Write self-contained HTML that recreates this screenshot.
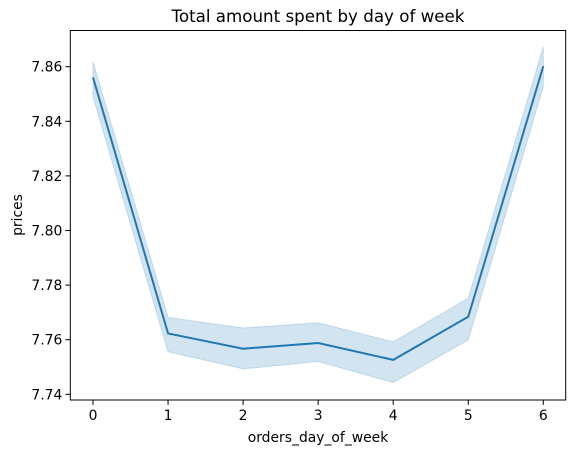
<!DOCTYPE html>
<html><head><meta charset="utf-8"><style>
body{margin:0;background:#fff;font-family:"Liberation Sans","DejaVu Sans",sans-serif}
svg text{font-family:"DejaVu Sans","Liberation Sans",sans-serif;fill:#000}
</style></head><body>
<svg id="chart" width="576" height="453" xmlns="http://www.w3.org/2000/svg">
<text x="318" y="22" font-size="16.7" text-anchor="middle">Total amount spent by day of week</text>
<g id="plot"></g>
<text x="318" y="442" font-size="13.9" text-anchor="middle">orders_day_of_week</text>
<text transform="translate(22,215) rotate(-90)" font-size="13.9" text-anchor="middle">prices</text>
</svg>
<script>
const days=[0,1,2,3,4,5,6];
const meanVals=[7.8561,7.7623,7.7567,7.7588,7.7526,7.7684,7.8602];
const upperVals=[7.8618,7.7682,7.7643,7.7662,7.7592,7.7752,7.8673];
const lowerVals=[7.8490,7.7556,7.7493,7.7520,7.7443,7.7599,7.8527];
const yTicks=[7.74,7.76,7.78,7.80,7.82,7.84,7.86];
const xTicks=[0,1,2,3,4,5,6];
const L=70.3,R=565.7,T=30.5,B=400;
const xs=d=>93+d*75.05;
const ys=v=>394.3-(v-7.74)/0.02*54.6;
const NS="http://www.w3.org/2000/svg";
const g=document.getElementById('plot');
function mk(t,a){const e=document.createElementNS(NS,t);for(const k in a)e.setAttribute(k,a[k]);g.appendChild(e);return e;}
let d="M"+days.map((x,i)=>xs(x)+","+ys(upperVals[i])).join("L");
for(let i=days.length-1;i>=0;i--)d+="L"+xs(days[i])+","+ys(lowerVals[i]);
const band=mk('path',{d:d+"Z",fill:"#1f77b4","fill-opacity":"0.2",stroke:"#1f77b4","stroke-opacity":"0.2"});


const line=mk('polyline',{points:days.map((x,i)=>xs(x)+","+ys(meanVals[i])).join(" "),fill:"none",stroke:"#1f77b4","stroke-width":"2"});


const frame=mk('rect',{x:L,y:T,width:R-L,height:B-T,fill:"none",stroke:"#000","stroke-width":"1"});


yTicks.forEach(v=>{const y=ys(v);
const tk=mk('line',{x1:L-4.9,x2:L,y1:y,y2:y,stroke:"#000","stroke-width":"1"});


const t=mk('text',{x:L-8,y:y+5,"font-size":"13.9","text-anchor":"end"});t.textContent=v.toFixed(2);

});
xTicks.forEach(v=>{const x=xs(v);
const tk=mk('line',{x1:x,x2:x,y1:B,y2:B+4.9,stroke:"#000","stroke-width":"1"});


const t=mk('text',{x:x,y:B+20,"font-size":"13.9","text-anchor":"middle"});t.textContent=v;

});
</script>
</body></html>
